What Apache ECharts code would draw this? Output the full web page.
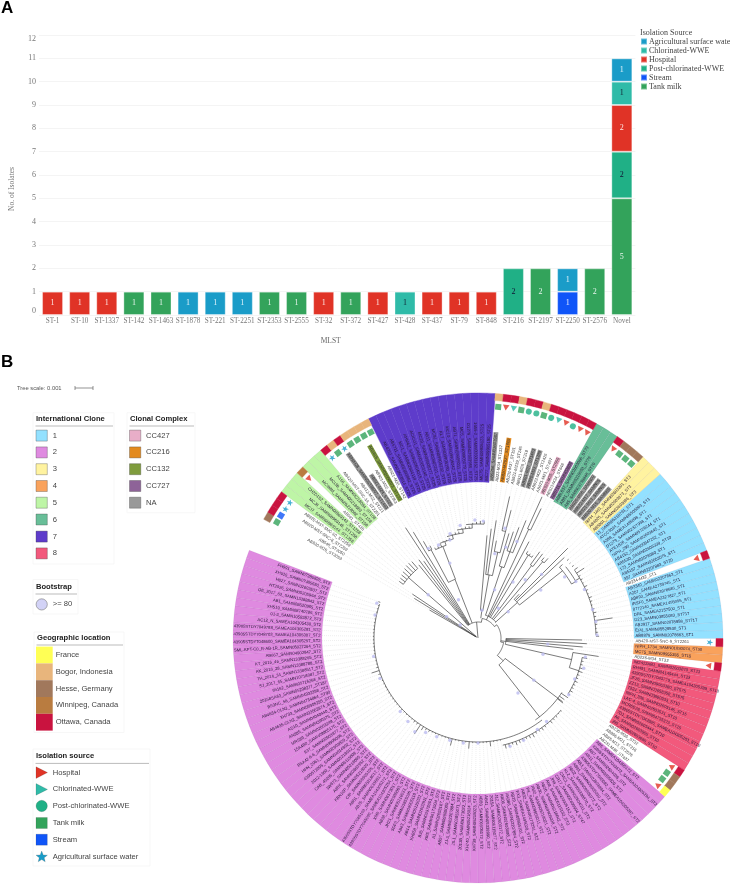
<!DOCTYPE html>
<html>
<head>
<meta charset="utf-8">
<title>MLST and phylogeny</title>
<script src="https://cdn.jsdelivr.net/npm/echarts@6/dist/echarts.min.js"></script>
<style>
html, body { margin: 0; padding: 0; background: #fff; }
#chart { width: 730px; height: 885px; }
</style>
</head>
<body>
<div id="chart"></div>
<script>
// ---- panel A data
var categories = ['ST-1', 'ST-10', 'ST-1337', 'ST-142', 'ST-1463', 'ST-1878', 'ST-221', 'ST-2251', 'ST-2353', 'ST-2555', 'ST-32', 'ST-372', 'ST-427', 'ST-428', 'ST-437', 'ST-79', 'ST-848', 'ST-216', 'ST-2197', 'ST-2250', 'ST-2576', 'Novel'];
var tankMilk = [null, null, null, 1, 1, null, null, null, 1, 1, null, 1, null, null, null, null, null, null, 2, null, 2, 5];
var stream = [null, null, null, null, null, null, null, null, null, null, null, null, null, null, null, null, null, null, null, 1, null, null];
var postChlorinated = [null, null, null, null, null, null, null, null, null, null, null, null, null, null, null, null, null, 2, null, null, null, 2];
var hospital = [1, 1, 1, null, null, null, null, null, null, null, 1, null, 1, null, 1, 1, 1, null, null, null, null, 2];
var chlorinated = [null, null, null, null, null, null, null, null, null, null, null, null, null, 1, null, null, null, null, null, null, null, 1];
var agricultural = [null, null, null, null, null, 1, 1, 1, null, null, null, null, null, null, null, null, null, null, null, 1, null, 1];
var yTicks = [0, 12];

// ---- panel B data, leaves in clockwise order from the gap
var leafNames = [
  // white
  'AB920-M26_ST2053', 'AB548_ST2050', 'AB920-MST-SNC-8_ST2259', 'AB920-MST-SNC-10_ST2259',
  // IC5
  'MCJ7_SAMN08969144_ST1258', 'MCJ8_SAMN08969145_ST1258', 'CH2D1S2_SAMN08969143_ST1258',
  'AB591_ST428',
  'MCI98M_SAMN05218082_ST158', 'MCI3B_SAMN05218083_ST158', 'A156_SAMN05218084_ST158',
  'AB420-MST-SNC-14_ST2251', 'AB412-M22_ST221', 'ABNIH28_SAMN06338907_ST1463', 'AB921-M24_ST221', 'AB921-M22_ST2353', 'AB1615_SAMN02604073_ST132', 'AB921-M20_ST142',
  // IC7
  'AB4052_SAMN02603914_ST25', 'AB5711_SAMN02603982_ST25', 'MC1_SAMN02604119_ST25', 'AHM42_SAMN02604015_ST25', 'ACICU1_SAMN02603140_ST25', 'MC29_SAMN09905277_ST25', 'AB11_SAMN09905101_ST25', 'MC81_SAMN09905232_ST25', 'KL7_SAMN09905190_ST25', 'MC10_SAMN09905042_ST25', 'AB71_SAMN09905011_ST25', 'MC5_SAMN09905079_ST25', 'D1279_SAMN02603966_ST25', '1656-2_SAMN02603162_ST25', 'MC75_SAMN09905123_ST25', 'MC77_SAMN09905190_ST25',
  // top white and complexes
  'AB5256_SAMN02603987', 'AB23-M34_ST1337', 'AB820-M2627_ST1609', 'AB231-M37_ST191', 'AB921-M239_ST246', 'AB921-M39_ST318', 'AB921-M37_ST1463', 'AB920-M33_ST1289', 'AB923-M33_ST2426', 'AB921-M21_ST497', 'AB920-M35_ST2555', 'AB923-M34_ST848', 'AB5711_SAMN02604',
  // IC6
  'ABBL037_SAMN02603066_ST79', 'AB91_SAMN05218053_ST79', 'A85_SAMN03738848_ST79',
  'AB920-M08_SAMN09', 'AB922-M17_SAMN05', 'AB921-M13_SAMN05', 'AB920-M15_SAMN05',
  // IC3
  'NIPH_1401_SAMN02603201_ST3', 'AB4025_SAMN02603873_ST3', 'AB5001_SAMN02603886_ST3',
  // IC1
  '13_SAMN05218791_ST1', 'ATCC3024_SAMN05505063_ST1', 'A388_SAMEA1495098_ST1', 'D1279_SAMN02327938_ST1', 'AYE1826_SAMN05726244_ST1', 'NIPH_290_SAMN02603645_ST1', 'AB4152_SAMN00947262_ST1', 'AB5530_SAMN02603339_ST10', '173_SAMN02078980_ST1', 'AB5197_SAMN02603075_ST1', '397_SAMN02207883_ST20',
  'AB234-M32_ST1',
  'AB3340_SAMN02207863_ST1', 'A207_SAMEA2739745_ST1', 'AB893_SAMN03978685_ST1', 'IRSF0_SAMEA2327827_ST1', '8772140_SAMEA1495095_ST1', 'DRL_SAMEA2157500_ST1', 'D23_SAMN03855083_ST717', 'AB2917_SAMN02078858_ST717', 'E(4)_SAMN05528530_ST1', 'AB8879_SAMN02078663_ST1',
  'AB420-MST-SNC-9_ST2261',
  // IC4
  'NIPH_1734_SAMN01830074_ST30', 'MC75_SAMN09955355_ST15',
  'AB236-M34_ST32',
  // IC8
  'IM2423AB1_SAMN02603870_ST23', 'RH491_SAMN04149444_ST23', '43905STDY7043779_SAMEA104305289_ST10', 'JF26_SAMN09063380_ST575', 'ZZ13_SAMN03658358_ST575', 'T224_SAMN03890933_ST10', 'NIPH_335_SAMN02603145_ST15', 'LAC-4_SAMN02603531_ST10', 'MCR6E28_SAMN04735373_ST15', '43905STDY7043985_SAMEA104305283_ST10', '7D1_SAMN02603444_ST10', 'A6_SAMN02603905_ST10', 'J85_SAMN02603680_ST10',
  'AB236-M36_ST32', 'AB866-M21_ST216', 'AB85-M13_ST2576', 'AB231-M38_ST437',
  // IC2
  'AB5_SAMEA104305172_ST2', '43905STDY7043672_SAMEA104305294_ST2', 'AB7_SAMN02604036_ST2', 'AB11_SAMN03855020_ST2', '43905STDY7045082_SAMEA104305287_ST2', 'AB3_SAMN02603984_ST2', 'AB91_SAMN09905030_ST2', 'AB22_SAMN09905072_ST2', 'KL2_SAMN06338870_ST2', 'CMC1_SAMN02604011_ST2', 'CR17_SAMN02603994_ST47', 'JH8_SAMN09905152_ST2', 'Ab8_SAMN06115132_ST2', 'AB20_SAMN05218042_ST2', 'AB30_SAMN09905098_ST2', 'XM2_SAMN05218021_ST2', 'PK_SAMN09905011_ST2', 'AB32_SAMN06173291_ST2', 'FX3_SAMEA1495028_ST2',
  'AB29_SAMN09905101_ST2', 'XH386_SAMN02207894_ST2', 'AB06_SAMN02603888_ST2', 'J12_SAMN02603172_ST2', '2015A_SAMN06115077_ST2', 'AB41_SAMN06338990_ST2', 'AB03_SAMN09905172_ST2', 'XH739_SAMN05218023_ST2', 'XH740_SAMN05218024_ST2', '2013B_SAMN06173022_ST2', 'JS-1_SAMN03855071_ST2', 'ZJ-3_SAMN02207884_ST2', 'AB57_SAMN09905090_ST2', 'A1_SAMN02603187_ST2', 'XM5_SAMN06173004_ST2', 'BJ5_SAMN03978601_ST2', 'XH858_SAMN02603911_ST2', 'AB14_SAMN06115032_ST2', 'AB63_SAMN09905118_ST2', 'SDF3_SAMN03855026_ST2', 'JH21_SAMN05218033_ST2', 'AB38_SAMN09905063_ST2', 'XM9_SAMN06173017_ST2', '43905STDY7045090_SAMEA104305254_ST2', '43905STDY7045103_SAMEA104305272_ST2', 'AB76_SAMN06338917_ST2', 'AB51_SAMN05218017_ST2', 'CIP_SAMN09905105_ST2',
  'KBN10P_SAMN05218029_ST2', 'A85X_SAMN02603952_ST2', '1W873_SAMN05218065_ST2', 'CAB_45285_SAMN06115008_ST2', '2012-1360_SAMN05218012_ST2', '43905T2005_SAMN04014802_ST2', 'HPN_2061_SAMN02603820_ST2', 'BSA42-6-6_SAMN09905096_ST2', 'E37_SAMN02603877_ST2', '15A4B0_SAMN09905175_ST2', 'MRS89_SAMN02603249_ST2', 'AN985_SAMN04390375_ST2', 'AD10_SAMN04040440_ST2', 'AB4635-GLN2_SAMN03062874_ST2', 'XH733_SAMN09905295_ST2', 'AB4634-GLN1_SAMN04734864_ST90', 'BS3NC_56_SAMN04932398_ST2', '20158SA63_SAMN05298277_ST187', '95162_SAMN05716268_ST2', 'SJ_2017_65_SAMN10718087_ST2', 'TH_2016_34_SAMN13388517_ST2', 'AK_2016_28_SAMN13388788_ST2', 'KT_2016_46_SAMN13388265_ST2', 'AB667_SAMN04902847_ST2',
  'SML-KPT-C0_R-AB-1R_SAMN05027264_ST2', '43905STDY7048600_SAMEA104305297_ST2', '43905STDY7048703_SAMEA104305307_ST2', '43905STDY7049788_SAMEA104305281_ST2', 'AC12_N_SAMEA104305430_ST2', '01-3_SAMN10583872_ST2', 'XH519_SAMN08740786_ST2', 'AB1_SAMN08620965_ST2', 'OE_2017_62_SAMN13388843_ST2', 'HT2026_SAMN05205964_ST2', 'H827_SAMN02603507_ST2', 'XH515_SAMN07485680_ST2', 'FH991_SAMN07385826_ST2'
];
// tree distance of every tip
var leafTips = [
  56, 75, 79, 97, 98, 99, 100, 101, 102, 102, 101,
  94, 98, 94, 132, 124, 111, 104,
  100, 100, 101, 103, 103, 104, 107, 108, 108, 111, 112, 112, 115, 116, 117, 117,
  103, 110, 119, 99, 145, 132, 109, 112, 118, 127, 155, 144, 109,
  100, 99, 99, 106, 106, 104, 106, 112, 127, 118,
  120, 119, 120, 122, 127, 120, 120, 119, 121, 120, 119, 121, 120, 119, 120, 121, 120, 136, 120, 119, 120, 121,
  104, 109, 105, 96,
  122, 111, 108, 108, 109, 110, 108, 108, 109, 108, 108, 109, 108,
  108, 106, 107, 100,
  111, 111, 112, 112, 113, 111, 112, 113, 112, 112, 114, 113, 112, 112, 113, 114, 112, 113, 114,
  105, 105, 105, 109, 105, 105, 105, 105, 105, 111, 105, 105, 105, 105, 111, 105, 105, 105, 105, 105, 105, 106, 106, 108, 115, 106, 106, 105, 105, 105, 105, 105, 105, 105, 105, 105, 105, 105, 105, 105, 105, 105, 105, 106, 112, 106, 105, 105, 105, 105, 105, 105, 105, 105, 105, 105, 105, 105, 105, 105, 105, 105, 105, 105, 106
];
var cladeRuns = [[0, 4], ['5', 3], [0, 1], ['5', 3], [0, 7], ['7', 16], [0, 13], ['6', 3], [0, 4], ['3', 3], ['1', 11], [0, 1], ['1', 10], [0, 1], ['4', 2], [0, 1], ['8', 13], [0, 4], ['2', 84]];
var complexLeaves = { 13: 'NA', 14: 'NA', 16: 'CC132', 34: 'NA', 36: 'CC216', 40: 'NA', 41: 'NA', 44: 'CC427', 46: 'CC727', 50: 'NA', 51: 'NA', 52: 'NA', 53: 'NA' };
// [leaf, isolation source, location]
var markedLeaves = [
  [0, 'Tank milk', 'Hesse, Germany'], [1, 'Stream', 'Ottawa, Canada'], [2, 'Agricultural surface water', 'Ottawa, Canada'], [3, 'Agricultural surface water', 'Ottawa, Canada'],
  [7, 'Hospital', 'Winnipeg, Canada'],
  [11, 'Agricultural surface water', 'Ottawa, Canada'], [12, 'Tank milk', 'Bogor, Indonesia'], [13, 'Agricultural surface water', 'Ottawa, Canada'], [14, 'Tank milk', 'Bogor, Indonesia'], [15, 'Tank milk', 'Bogor, Indonesia'], [16, 'Tank milk', 'Bogor, Indonesia'], [17, 'Tank milk', 'Bogor, Indonesia'],
  [34, 'Tank milk', 'Bogor, Indonesia'], [35, 'Hospital', 'Ottawa, Canada'], [36, 'Chlorinated-WWE', 'Ottawa, Canada'], [37, 'Tank milk', 'Bogor, Indonesia'], [38, 'Post-chlorinated-WWE', 'Ottawa, Canada'], [39, 'Post-chlorinated-WWE', 'Ottawa, Canada'], [40, 'Tank milk', 'Bogor, Indonesia'], [41, 'Post-chlorinated-WWE', 'Ottawa, Canada'], [42, 'Chlorinated-WWE', 'Ottawa, Canada'], [43, 'Hospital', 'Ottawa, Canada'], [44, 'Post-chlorinated-WWE', 'Ottawa, Canada'], [45, 'Hospital', 'Ottawa, Canada'], [46, 'Hospital', 'Ottawa, Canada'],
  [50, 'Hospital', 'Ottawa, Canada'], [51, 'Tank milk', 'Hesse, Germany'], [52, 'Tank milk', 'Hesse, Germany'], [53, 'Tank milk', 'Hesse, Germany'],
  [68, 'Hospital', 'Ottawa, Canada'], [79, 'Agricultural surface water', 'Ottawa, Canada'], [82, 'Hospital', 'Ottawa, Canada'],
  [96, 'Hospital', 'Ottawa, Canada'], [97, 'Tank milk', 'Hesse, Germany'], [98, 'Tank milk', 'Hesse, Germany'], [99, 'Hospital', 'France']
];
// [angle, from distance, to distance]
var treeRadial = [
  [-60, 2, 56], [-58.1, 2, 75], [-56.2, 2, 79], [-49, 2, 92],
  [-39, 16, 94], [-37.1, 16, 98], [-35.2, 16, 94], [-33.3, 16, 132], [-31.4, 16, 124], [-21.4, 16, 63], [-28, 63, 100], [-21, 63, 98],
  [-19, 98, 102], [-14, 102, 106], [-8, 106, 110], [-3, 110, 114],
  [12, 16, 20], [55, 20, 23], [100, 23, 26], [132, 26, 34], [-5, 0, 16],
  [8, 20, 28], [5, 28, 103], [10, 28, 64], [6.9, 64, 110], [8.8, 64, 119], [13, 64, 88], [10.7, 88, 99], [14.5, 88, 110], [12.6, 110, 145], [14.5, 110, 132], [16.5, 75, 109],
  [25, 20, 24], [18.4, 24, 75], [20.3, 75, 92], [18.4, 92, 112], [20.3, 92, 118], [22.2, 92, 127], [25, 24, 120], [24.4, 120, 155], [26, 120, 144], [27.9, 24, 109], [31.2, 24, 97],
  [36.5, 24, 90], [40.3, 24, 100],
  [48, 23, 53], [45, 53, 127], [51.5, 53, 108], [49, 108, 112], [43.2, 53, 60], [47, 53, 118], [60, 108, 113], [59.5, 113, 118],
  [97, 23, 28], [91.1, 28, 104], [93, 28, 109], [94.9, 28, 105], [96.8, 28, 96], [103, 28, 96], [98.7, 96, 122], [108, 96, 106],
  [127, 34, 106], [142, 34, 100]
];
// [distance, from angle, to angle]
var treeArcs = [
  [16, -37, 12], [20, 12, 55], [23, 55, 100], [26, 100, 132], [34, 127, 142],
  [92, -54.3, -41], [63, -28, -21], [100, -29.5, -27.6], [98, -25.6, -19], [102, -22, -14], [106, -17, -8], [110, -11, -3], [114, -6, 3],
  [28, 5, 10], [64, 6.9, 13], [88, 10.7, 14.5], [110, 12.6, 14.5], [75, 16.5, 20.3], [92, 18.4, 22.2], [24, 18, 48], [120, 24.4, 26], [97, 29.8, 33.7], [90, 35.6, 37.5], [100, 39.4, 41.3],
  [53, 43.2, 51.5], [108, 49, 60], [113, 50.9, 60], [118, 55, 88.5], [28, 91, 103], [96, 98.7, 108], [106, 100.6, 121.6],
  [100, 123, 145], [110, 131, 167], [104, 142, 289]
];
// [first leaf, last leaf, distance the tips hang from]
var treeCombs = [
  [3, 10, 92], [16, 17, 100], [18, 20, 98], [21, 23, 102], [24, 26, 106], [27, 29, 110], [30, 33, 114], [47, 49, 97], [50, 51, 90], [52, 53, 100],
  [57, 78, 118], [84, 95, 106], [96, 98, 100], [100, 118, 110], [119, 183, 104]
];
// [distance, angle]
var bootstrapPoints = [
  [102.5, -29], [101, -23], [102, -16], [80, -20.6], [43, -27], [38, -55.7], [66, -49], [22, -54], [108, -15], [114, -9], [118, -1.5], [117, 2.6],
  [86, 11.3], [113, 13.8], [95, 17], [104, 22], [66, 32], [75, 39], [90, 45], [79, 52.6], [40, 49], [51, 19], [36, 34.4], [28, 8],
  [106, 54.8], [113, 60], [117, 65.5], [118, 76], [119, 82], [119, 88.5], [70, 95], [67, 104], [109, 100], [110, 106], [105, 113], [107, 122], [70, 127], [68, 144], [108, 140.6], [109, 147], [112, 156], [113, 163.5],
  [105, 180], [106, 188], [106, 195.4], [107, 202.7], [108, 209], [113, 214], [109, 220], [107, 226.6], [106, 247.6], [106, 260], [105.5, 282.6], [107, 289]
];

// ---- legends of panel B
var cloneLabels = ['1', '2', '3', '4', '5', '6', '7', '8'];
var complexLabels = ['CC427', 'CC216', 'CC132', 'CC727', 'NA'];
var locationLabels = ['France', 'Bogor, Indonesia', 'Hesse, Germany', 'Winnipeg, Canada', 'Ottawa, Canada'];
var sourceLabels = ['Hospital', 'Chlorinated-WWE', 'Post-chlorinated-WWE', 'Tank milk', 'Stream', 'Agricultural surface water'];

// ---- colours
var sourceColor = { 'Hospital': '#e03326', 'Chlorinated-WWE': '#2fbba8', 'Post-chlorinated-WWE': '#20b086', 'Tank milk': '#33a35b', 'Stream': '#0f55f8', 'Agricultural surface water': '#1a9cc8' };
var sourceShape = { 'Hospital': 'triangle', 'Chlorinated-WWE': 'triangle', 'Post-chlorinated-WWE': 'circle', 'Tank milk': 'rect', 'Stream': 'rect', 'Agricultural surface water': 'star' };
var cloneColor = { '1': '#93e1ff', '2': '#df8ae0', '3': '#fff3a0', '4': '#f9a25c', '5': '#bef5a6', '6': '#68be98', '7': '#5e3ccb', '8': '#f2597c' };
var complexColor = { 'CC427': '#e8aec8', 'CC216': '#e38a1e', 'CC132': '#7f9c3d', 'CC727': '#8e6398', 'NA': '#999999' };
var locationColor = { 'France': '#ffff55', 'Bogor, Indonesia': '#e8b57c', 'Hesse, Germany': '#a1785c', 'Winnipeg, Canada': '#b97c40', 'Ottawa, Canada': '#c9133f' };
var starPath = 'path://M50 0 L62 36 L100 36 L69 58 L81 95 L50 72 L19 95 L31 58 L0 36 L38 36 Z';

// ---- layout of the circle
var cx = 478, cy = 638, outerR = 245, labelR = 156, ringR = 238, markR = 232;
var gapStart = -61, leafStep = 1.913;
function leafEdge(i) { return gapStart + i * leafStep; }
function leafMid(i) { return gapStart + (i + 0.5) * leafStep; }

var leafClade = [];
cladeRuns.forEach(function (run) {
  for (var k = 0; k < run[1]; k++) leafClade.push(run[0]);
});

// ---- builders for the custom series
function sectorSeries(cells, z) {
  return {
    type: 'custom', coordinateSystem: 'polar', silent: true, z: z,
    data: cells.map(function (c) { return [c.r0, c.a0]; }),
    renderItem: function (params, api) {
      var c = cells[params.dataIndex];
      var p0 = api.coord([c.r0, c.a0]), p1 = api.coord([c.r1, c.a1]);
      return {
        type: 'sector',
        shape: { cx: cx, cy: cy, r0: p0[2], r: p1[2], startAngle: -p0[3], endAngle: -p1[3], clockwise: true },
        style: { fill: c.color, stroke: c.line || c.color, lineWidth: 0.4 }
      };
    }
  };
}

function lineSeries(paths, stroke, width, dash, z) {
  return {
    type: 'custom', coordinateSystem: 'polar', silent: true, z: z,
    data: paths.map(function (p) { return p[0]; }),
    renderItem: function (params, api) {
      var pts = paths[params.dataIndex].map(function (p) {
        var c = api.coord(p);
        return [c[0], c[1]];
      });
      return {
        type: 'polyline',
        shape: { points: pts },
        style: { stroke: stroke, lineWidth: width, lineDash: dash, fill: null }
      };
    }
  };
}

// clade backgrounds
var cladeCells = [];
leafClade.forEach(function (cl, i) {
  if (cl) cladeCells.push({ r0: labelR, r1: outerR, a0: leafEdge(i), a1: leafEdge(i + 1), color: cloneColor[cl], line: cl === '7' ? cloneColor[cl] : 'rgba(70,40,90,0.14)' });
});
// location ring
var ringCells = markedLeaves.map(function (m) {
  return { r0: ringR, r1: outerR, a0: leafEdge(m[0]), a1: leafEdge(m[0] + 1), color: locationColor[m[2]] };
});
// dotted leaders
var leaderPaths = leafTips.map(function (tip, i) { return [[tip, leafMid(i)], [labelR, leafMid(i)]]; });
// branches
var branchPaths = treeRadial.map(function (b) { return [[b[1], b[0]], [b[2], b[0]]]; });
treeArcs.forEach(function (b) {
  var pts = [];
  for (var a = b[1]; a < b[2]; a += 1.5) pts.push([b[0], a]);
  pts.push([b[0], b[2]]);
  branchPaths.push(pts);
});
treeCombs.forEach(function (c) {
  for (var i = c[0]; i <= c[1]; i++) branchPaths.push([[c[2], leafMid(i)], [leafTips[i], leafMid(i)]]);
});

var labelSeries = {
  type: 'custom', coordinateSystem: 'polar', silent: true, z: 6,
  data: leafNames.map(function (n, i) { return [labelR, leafMid(i)]; }),
  renderItem: function (params, api) {
    var i = params.dataIndex, a = leafMid(i);
    var rightSide = a >= 0 && a < 180;
    var p = api.coord([labelR + 1.5, a]);
    var complex = complexLeaves[i];
    var rot = rightSide ? (90 - a) : (270 - a);
    var style = {
      text: leafNames[i], fontSize: 4.2, fontFamily: 'Liberation Sans',
      fill: leafClade[i] ? '#2a1a3a' : '#444',
      align: rightSide ? 'left' : 'right', verticalAlign: 'middle'
    };
    if (complex) { style.backgroundColor = complexColor[complex]; style.fill = '#333'; style.padding = [0.4, 0.6]; }
    return { type: 'text', x: p[0], y: p[1], rotation: rot * Math.PI / 180, style: style };
  }
};

var markerSeries = {
  type: 'scatter', coordinateSystem: 'polar', silent: true, z: 7,
  data: markedLeaves.map(function (m) {
    var a = leafMid(m[0]), shape = sourceShape[m[1]];
    return {
      value: [markR, a],
      symbol: shape === 'star' ? starPath : shape,
      symbolSize: shape === 'triangle' ? [6.5, 5.5] : (shape === 'star' ? 6.5 : 6),
      symbolRotate: shape === 'triangle' ? -(a + 180) : -a,
      itemStyle: { color: sourceColor[m[1]] }
    };
  })
};

var bootstrapSeries = {
  type: 'scatter', coordinateSystem: 'polar', silent: true, z: 5,
  symbol: 'circle', symbolSize: 3.4,
  itemStyle: { color: '#bcbcf0' },
  data: bootstrapPoints
};

// ---- panel A bars
function barSeries(name, values, color, labelColor) {
  return {
    name: name, type: 'bar', stack: 'total', barWidth: 21, data: values,
    itemStyle: { color: color, borderColor: 'rgba(255,255,255,0.35)', borderWidth: 1 },
    label: { show: true, position: 'inside', color: labelColor, fontSize: 8, fontFamily: 'Liberation Serif' }
  };
}

// ---- graphic legends
var graphics = [];
function addText(text, x, y, font, fill) {
  graphics.push({ type: 'text', x: x, y: y, silent: true, style: { text: text, font: font, fill: fill || '#444', verticalAlign: 'middle' } });
}
function addPanel(x0, y0, x1, y1, title, titleY, ruleY) {
  graphics.push({ type: 'rect', silent: true, shape: { x: x0, y: y0, width: x1 - x0, height: y1 - y0 }, style: { fill: '#fff', stroke: '#f3f3f3', lineWidth: 0.7 } });
  addText(title, x0 + 3, titleY, 'bold 7.6px "Liberation Sans"', '#222');
  graphics.push({ type: 'line', silent: true, shape: { x1: x0 + 2.5, y1: ruleY, x2: x1 - 1, y2: ruleY }, style: { stroke: '#bbb', lineWidth: 1 } });
}
var rowFont = '7.6px "Liberation Sans"';
var rowY = [435.6, 452.4, 469.2, 486, 502.7, 519.5, 536.6, 553.4];

addText('A', 1, 8, 'bold 17px "Liberation Sans"', '#000');
addText('B', 1, 362, 'bold 17px "Liberation Sans"', '#000');
addText('Isolation Source', 640, 33, '8px "Liberation Serif"', '#444');

addText('Tree scale: 0.001', 17, 388, '5.8px "Liberation Sans"', '#555');
graphics.push({ type: 'line', silent: true, shape: { x1: 75, y1: 388, x2: 93, y2: 388 }, style: { stroke: '#666', lineWidth: 0.7 } });
graphics.push({ type: 'line', silent: true, shape: { x1: 75, y1: 386, x2: 75, y2: 390 }, style: { stroke: '#666', lineWidth: 0.7 } });
graphics.push({ type: 'line', silent: true, shape: { x1: 93, y1: 386, x2: 93, y2: 390 }, style: { stroke: '#666', lineWidth: 0.7 } });

addPanel(33, 412.7, 114, 564, 'International Clone', 418.5, 426);
cloneLabels.forEach(function (l, i) {
  graphics.push({ type: 'rect', silent: true, shape: { x: 36, y: rowY[i] - 5.5, width: 11.3, height: 11 }, style: { fill: cloneColor[l], stroke: 'rgba(60,60,60,0.55)', lineWidth: 0.6 } });
  addText(l, 52.7, rowY[i], rowFont);
});

addPanel(127, 412.7, 195, 512.7, 'Clonal Complex', 418.5, 426);
complexLabels.forEach(function (l, i) {
  graphics.push({ type: 'rect', silent: true, shape: { x: 129.5, y: rowY[i] - 5.5, width: 11.3, height: 11 }, style: { fill: complexColor[l], stroke: 'rgba(60,60,60,0.55)', lineWidth: 0.6 } });
  addText(l, 146, rowY[i], rowFont);
});

addPanel(33, 579.5, 78, 614, 'Bootstrap', 587, 594);
graphics.push({ type: 'circle', silent: true, shape: { cx: 41.7, cy: 604.4, r: 5.6 }, style: { fill: '#d2d2f6', stroke: '#777', lineWidth: 0.6 } });
addText('>= 80', 52.7, 604.4, rowFont);

addPanel(34, 632, 124, 732.5, 'Geographic location', 637.7, 645);
locationLabels.forEach(function (l, i) {
  graphics.push({ type: 'rect', silent: true, shape: { x: 36, y: 646.6 + i * 16.8, width: 16.7, height: 16.8 }, style: { fill: locationColor[l] } });
  addText(l, 55.7, 655 + i * 16.8, rowFont);
});

addPanel(33, 749, 150, 866, 'Isolation source', 755.8, 763.4);
var sourceRowY = [772.6, 789.4, 806, 823, 839.7, 857];
sourceLabels.forEach(function (l, i) {
  var y = sourceRowY[i], st = { fill: sourceColor[l], stroke: 'rgba(60,60,60,0.35)', lineWidth: 0.5 };
  if (sourceShape[l] === 'triangle') {
    graphics.push({ type: 'polygon', silent: true, shape: { points: [[36, y - 5.8], [47.5, y], [36, y + 5.8]] }, style: st });
  } else if (sourceShape[l] === 'circle') {
    graphics.push({ type: 'circle', silent: true, shape: { cx: 41.7, cy: y, r: 5.7 }, style: st });
  } else if (sourceShape[l] === 'rect') {
    graphics.push({ type: 'rect', silent: true, shape: { x: 36, y: y - 5.5, width: 11.3, height: 11 }, style: st });
  } else {
    var star = [];
    for (var k = 0; k < 10; k++) {
      var rr = k % 2 ? 2.6 : 6, ang = -Math.PI / 2 + k * Math.PI / 5;
      star.push([41.7 + rr * Math.cos(ang), y + rr * Math.sin(ang)]);
    }
    graphics.push({ type: 'polygon', silent: true, shape: { points: star }, style: st });
  }
  addText(l, 52.7, y, rowFont);
});

var chart = echarts.init(document.getElementById('chart'), null, { renderer: 'canvas' });
chart.setOption({
  animation: false,
  textStyle: { fontFamily: 'Liberation Serif' },
  grid: { left: 38.4, top: 35, width: 597, height: 280 },
  legend: {
    left: 640, top: 37, orient: 'vertical', selectedMode: false,
    itemWidth: 6, itemHeight: 6, itemGap: 0, padding: 0,
    icon: 'rect',
    data: ['Agricultural surface water', 'Chlorinated-WWE', 'Hospital', 'Post-chlorinated-WWE', 'Stream', 'Tank milk'],
    textStyle: { fontSize: 8, fontFamily: 'Liberation Serif', color: '#444', padding: [0, 0, 0, -3], lineHeight: 9 }
  },
  xAxis: {
    type: 'category', data: categories,
    name: 'MLST', nameLocation: 'middle', nameGap: 22,
    nameTextStyle: { fontSize: 7.5, color: '#666', fontFamily: 'Liberation Serif', padding: [0, 13, 0, 0] },
    axisTick: { show: false }, axisLine: { show: false },
    axisLabel: { interval: 0, fontSize: 7.2, color: '#777', margin: 3, fontFamily: 'Liberation Serif' }
  },
  yAxis: {
    type: 'value', min: yTicks[0], max: yTicks[1], interval: 1,
    name: 'No. of Isolates', nameLocation: 'middle', nameGap: 23,
    nameTextStyle: { fontSize: 7.5, color: '#777', fontFamily: 'Liberation Serif', padding: [0, 28, 0, 0] },
    axisLabel: { fontSize: 8, color: '#777', margin: 3, fontFamily: 'Liberation Serif', verticalAlignMinLabel: 'bottom', verticalAlignMaxLabel: 'top' },
    splitLine: { lineStyle: { color: '#f4f4f4', width: 1 } },
    axisLine: { show: false }, axisTick: { show: false }
  },
  polar: { center: [cx, cy], radius: outerR },
  radiusAxis: { show: false, type: 'value', min: 0, max: outerR },
  angleAxis: { show: false, type: 'value', min: gapStart, max: gapStart + 360, startAngle: 90 - gapStart, clockwise: true },
  graphic: { elements: graphics },
  series: [
    barSeries('Tank milk', tankMilk, sourceColor['Tank milk'], '#e8f5ee'),
    barSeries('Stream', stream, sourceColor['Stream'], '#e8eeff'),
    barSeries('Post-chlorinated-WWE', postChlorinated, sourceColor['Post-chlorinated-WWE'], '#113'),
    barSeries('Hospital', hospital, sourceColor['Hospital'], '#fde8e6'),
    barSeries('Chlorinated-WWE', chlorinated, sourceColor['Chlorinated-WWE'], '#123'),
    barSeries('Agricultural surface water', agricultural, sourceColor['Agricultural surface water'], '#e3f4fb'),
    lineSeries(leaderPaths, '#dcdcdc', 0.5, [1, 1], 2),
    sectorSeries(cladeCells, 3),
    sectorSeries(ringCells, 3),
    lineSeries(branchPaths, '#333', 0.65, null, 4),
    bootstrapSeries,
    labelSeries,
    markerSeries
  ]
});
</script>
</body>
</html>
